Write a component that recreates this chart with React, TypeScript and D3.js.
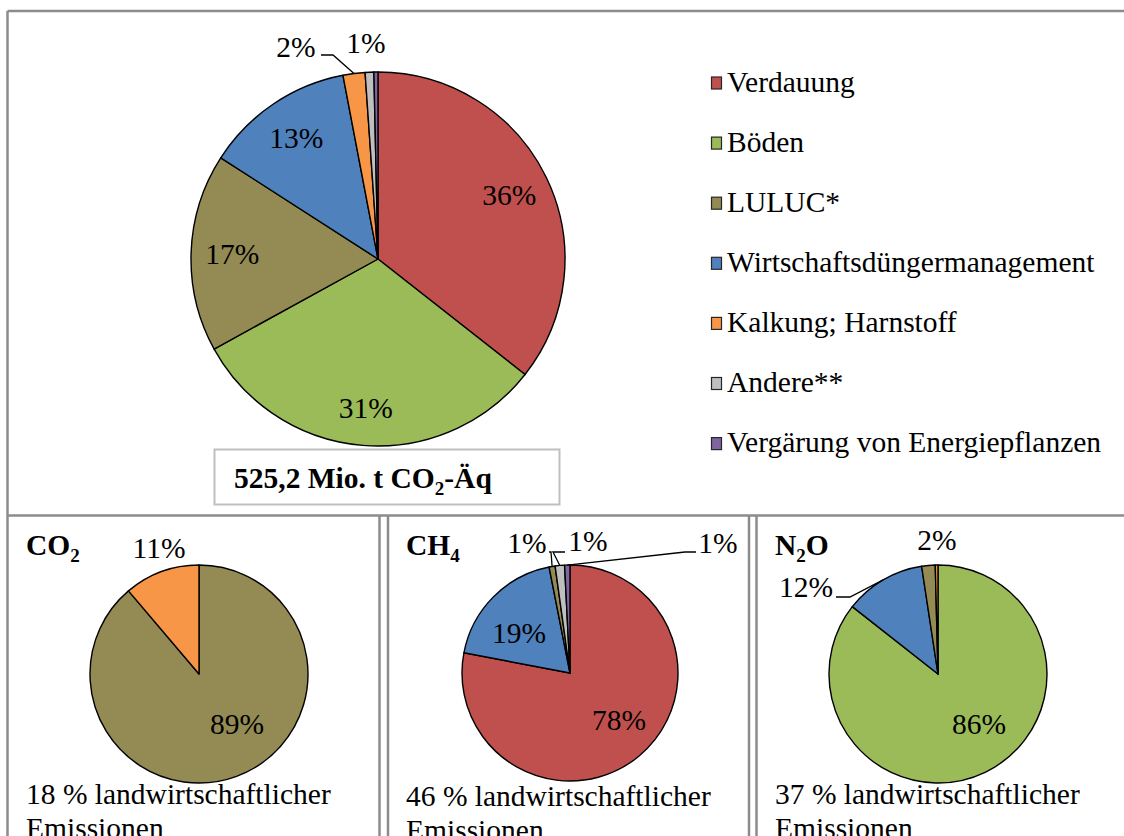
import React from "react";
import * as d3 from "d3";

// ---------- data ----------
const categories = [
  "Verdauung",
  "Böden",
  "LULUC*",
  "Wirtschaftsdüngermanagement",
  "Kalkung; Harnstoff",
  "Andere**",
  "Vergärung von Energiepflanzen",
];
const categoryColors = ["#C0504D", "#9BBB59", "#948A54", "#4F81BD", "#F79646", "#BFBFBF", "#8064A2"];

const totalValues = [35.6, 31.4, 17.1, 12.9, 1.9, 0.75, 0.35];

const co2Categories = ["LULUC*", "Kalkung; Harnstoff"];
const co2Values = [88.8, 11.2];

const ch4Categories = ["Verdauung", "Wirtschaftsdüngermanagement", "LULUC*", "Andere**", "Vergärung von Energiepflanzen"];
const ch4Values = [78.0, 18.9, 0.9, 1.4, 0.8];

const n2oCategories = ["Böden", "Wirtschaftsdüngermanagement", "LULUC*", "Kalkung; Harnstoff"];
const n2oValues = [85.6, 12.0, 2.0, 0.4];

const shareTexts = ["18 % landwirtschaftlicher", "46 % landwirtschaftlicher", "37 % landwirtschaftlicher"];
const shareSecondLine = "Emissionen";

// ---------- styles / layout ----------
const FONT = "'Liberation Serif', 'Times New Roman', Times, serif";
const FS = 29.5;
const LINE = "#8C8C8C";

const colorScale = d3.scaleOrdinal<string, string>().domain(categories).range(categoryColors);
const fmt = (v: number) => {
  const r = Math.round(v);
  return r > 0 ? `${r}%` : "";
};

type LabelSpec =
  | { kind: "centroid"; f: number }
  | { kind: "fixed"; dx: number; dy: number; leader?: [number, number][] }
  | null;

function PieChart(props: {
  cx: number;
  cy: number;
  r: number;
  cats: string[];
  values: number[];
  labels: LabelSpec[];
}) {
  const { cx, cy, r, cats, values, labels } = props;
  const arcs = d3.pie<number>().sort(null).value((d) => d)(values);
  const arc = d3.arc<d3.PieArcDatum<number>>().innerRadius(0).outerRadius(r);
  return (
    <g transform={`translate(${cx},${cy})`}>
      {arcs.map((a, i) => (
        <path
          key={"s" + i}
          d={arc(a) || ""}
          fill={colorScale(cats[i])}
          stroke="#000"
          strokeWidth={1.4}
          strokeLinejoin="round"
        />
      ))}
      {arcs.map((a, i) => {
        const txt = fmt(values[i]);
        const spec = labels[i];
        if (!txt || !spec) return null;
        const mid = (a.startAngle + a.endAngle) / 2;
        let x = 0;
        let y = 0;
        let leader: React.ReactNode = null;
        if (spec.kind === "centroid") {
          x = Math.sin(mid) * r * spec.f;
          y = -Math.cos(mid) * r * spec.f;
        } else {
          x = spec.dx;
          y = spec.dy;
          if (spec.leader) {
            const pts: [number, number][] = [...spec.leader, [Math.sin(mid) * r, -Math.cos(mid) * r]];
            leader = <path d={d3.line()(pts) || ""} fill="none" stroke="#000" strokeWidth={1.3} />;
          }
        }
        return (
          <g key={"l" + i}>
            {leader}
            <text x={x} y={y} dy="0.34em" textAnchor="middle" fontFamily={FONT} fontSize={FS} fill="#000">
              {txt}
            </text>
          </g>
        );
      })}
    </g>
  );
}

function Title({ x, y, parts }: { x: number; y: number; parts: { t: string; sub?: boolean }[] }) {
  let prevSub = false;
  return (
    <text x={x} y={y} fontFamily={FONT} fontSize={FS} fontWeight="bold" fill="#000">
      {parts.map((p, i) => {
        const dy = p.sub && !prevSub ? 7 : !p.sub && prevSub ? -7 : 0;
        prevSub = !!p.sub;
        return (
          <tspan key={i} dy={dy} fontSize={p.sub ? 19 : FS}>
            {p.t}
          </tspan>
        );
      })}
    </text>
  );
}

export default function App() {
  const legendX = 711;
  const legendY0 = 91.5;
  const legendStep = 60.1;

  const topLabels: LabelSpec[] = [
    { kind: "centroid", f: 0.78 },
    { kind: "centroid", f: 0.8 },
    { kind: "centroid", f: 0.78 },
    { kind: "centroid", f: 0.78 },
    { kind: "fixed", dx: -82, dy: -212, leader: [[-57, -204], [-45, -204]] },
    { kind: "fixed", dx: -12, dy: -216 },
    null,
  ];
  const co2Labels: LabelSpec[] = [
    { kind: "fixed", dx: 38, dy: 50 },
    { kind: "fixed", dx: -40, dy: -126 },
  ];
  const ch4Labels: LabelSpec[] = [
    { kind: "fixed", dx: 49, dy: 47 },
    { kind: "fixed", dx: -51, dy: -40 },
    { kind: "fixed", dx: -43, dy: -130, leader: [[-21, -121], [-19, -121]] },
    { kind: "fixed", dx: 18, dy: -132, leader: [[-5, -121], [-17, -121]] },
    { kind: "fixed", dx: 148, dy: -130, leader: [[126, -121], [115, -121]] },
  ];
  const n2oLabels: LabelSpec[] = [
    { kind: "fixed", dx: 41, dy: 50 },
    { kind: "fixed", dx: -132, dy: -87, leader: [[-102, -77], [-88, -77]] },
    { kind: "fixed", dx: -1, dy: -134 },
    null,
  ];

  return (
    <svg
      width={1124}
      height={836}
      viewBox="0 0 1124 836"
      style={{ position: "absolute", left: 0, top: 0, background: "#fff" }}
    >
      <rect x={0} y={0} width={1124} height={836} fill="#fff" />

      {/* table lines */}
      <g stroke={LINE} strokeWidth={2.5} fill="none">
        <path d="M7.5,11 H1124" />
        <path d="M7.5,11 V836" />
        <path d="M7.5,515.5 H1124" />
        <path d="M379.5,515.5 V836" />
        <path d="M388,515.5 V836" />
        <path d="M749,515.5 V836" />
        <path d="M756.5,515.5 V836" />
      </g>

      {/* main pie */}
      <PieChart cx={378} cy={259} r={187} cats={categories} values={totalValues} labels={topLabels} />

      {/* legend */}
      {categories.map((c, i) => {
        const y = legendY0 + i * legendStep;
        return (
          <g key={c}>
            <rect x={legendX + 0.5} y={y - 14.5} width={10} height={12} fill={colorScale(c)} stroke="#262626" strokeWidth={1.2} />
            <text x={legendX + 16} y={y} fontFamily={FONT} fontSize={FS} fill="#000">
              {c}
            </text>
          </g>
        );
      })}

      {/* total box */}
      <rect x={214.5} y={449.5} width={345} height={55} fill="#fff" stroke="#BFBFBF" strokeWidth={2} />
      <Title
        x={234}
        y={488}
        parts={[{ t: "525,2 Mio. t CO" }, { t: "2", sub: true }, { t: "-Äq" }]}
      />

      {/* CO2 */}
      <Title x={26} y={555} parts={[{ t: "CO" }, { t: "2", sub: true }]} />
      <PieChart cx={199} cy={674} r={109} cats={co2Categories} values={co2Values} labels={co2Labels} />
      <text x={26} y={804} fontFamily={FONT} fontSize={FS} fill="#000">{shareTexts[0]}</text>
      <text x={26} y={838} fontFamily={FONT} fontSize={FS} fill="#000">{shareSecondLine}</text>

      {/* CH4 */}
      <Title x={406} y={555} parts={[{ t: "CH" }, { t: "4", sub: true }]} />
      <PieChart cx={570} cy={673} r={108} cats={ch4Categories} values={ch4Values} labels={ch4Labels} />
      <text x={406} y={806} fontFamily={FONT} fontSize={FS} fill="#000">{shareTexts[1]}</text>
      <text x={406} y={840} fontFamily={FONT} fontSize={FS} fill="#000">{shareSecondLine}</text>

      {/* N2O */}
      <Title x={775} y={555} parts={[{ t: "N" }, { t: "2", sub: true }, { t: "O" }]} />
      <PieChart cx={938} cy={674} r={109} cats={n2oCategories} values={n2oValues} labels={n2oLabels} />
      <text x={775} y={804} fontFamily={FONT} fontSize={FS} fill="#000">{shareTexts[2]}</text>
      <text x={775} y={838} fontFamily={FONT} fontSize={FS} fill="#000">{shareSecondLine}</text>
    </svg>
  );
}
